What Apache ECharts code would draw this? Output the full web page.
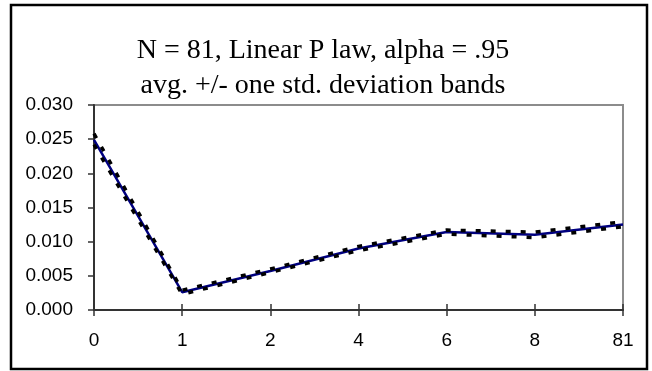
<!DOCTYPE html>
<html>
<head>
<meta charset="utf-8">
<script src="https://cdn.jsdelivr.net/npm/echarts@6/dist/echarts.min.js"></script>
<style>
  html, body { margin: 0; padding: 0; background: #fff; }
  #chart { width: 652px; height: 371px; }
</style>
</head>
<body>
<div id="chart"></div>
<script>
// x categories as shown on the axis
const categories = ['0', '1', '2', '4', '6', '8', '81'];
// average and +/- one std. deviation bands
const avg   = [0.0249, 0.0026, 0.0057, 0.0090, 0.0114, 0.0110, 0.0125];
const upper = [0.0258, 0.0029, 0.0060, 0.0093, 0.0117, 0.0114, 0.0129];
const lower = [0.0242, 0.0023, 0.0055, 0.0087, 0.0111, 0.0106, 0.0122];

const chart = echarts.init(document.getElementById('chart'), null, { renderer: 'canvas' });

const axisFont = { fontFamily: 'Liberation Sans, Arial, sans-serif', fontSize: 19, color: '#000' };

const band = (name, data) => ({
    name,
    type: 'line',
    data,
    symbol: 'none',
    z: 3,
    lineStyle: { color: '#000', width: 3.5, type: [5, 10] }
});

chart.setOption({
    animation: false,
    backgroundColor: '#fff',
    title: {
        text: 'N = 81, Linear P law, alpha = .95\navg. +/- one std. deviation bands',
        left: 318,
        top: 28,
        textAlign: 'center',
        textStyle: {
            fontFamily: 'Liberation Serif, Times New Roman, serif',
            fontWeight: 'normal',
            fontSize: 28,
            lineHeight: 35,
            color: '#000'
        }
    },
    graphic: [{
        type: 'rect',
        shape: { x: 11, y: 5, width: 636, height: 364 },
        style: { fill: 'none', stroke: '#000', lineWidth: 2.5 },
        silent: true
    }],
    grid: {
        left: 94, right: 29, top: 105, bottom: 61,
        show: true,
        borderColor: '#8c8c8c',
        borderWidth: 2,
        backgroundColor: 'transparent'
    },
    xAxis: [{
        type: 'category',
        data: categories,
        boundaryGap: false,
        axisLine: { lineStyle: { color: '#333', width: 2 } },
        axisTick: { alignWithLabel: true, length: 6, lineStyle: { color: '#333', width: 1.5 } },
        axisLabel: Object.assign({ margin: 21 }, axisFont),
        splitLine: { show: false }
    }, {
        type: 'category',
        data: categories,
        boundaryGap: false,
        position: 'bottom',
        axisLine: { show: false },
        axisTick: { inside: true, length: 6, lineStyle: { color: '#333', width: 1.5 } },
        axisLabel: { show: false },
        splitLine: { show: false }
    }],
    yAxis: {
        type: 'value',
        min: 0,
        max: 0.03,
        interval: 0.005,
        axisLine: { show: true, lineStyle: { color: '#333', width: 2 } },
        axisTick: { show: true, length: 6, lineStyle: { color: '#333', width: 1.5 } },
        axisLabel: Object.assign({ margin: 21, formatter: v => v.toFixed(3) }, axisFont),
        splitLine: { show: false }
    },
    series: [
        {
            name: 'avg',
            type: 'line',
            data: avg,
            symbol: 'none',
            z: 2,
            lineStyle: { color: '#000080', width: 2.5 }
        },
        band('upper', upper),
        band('lower', lower)
    ]
});
</script>
</body>
</html>
